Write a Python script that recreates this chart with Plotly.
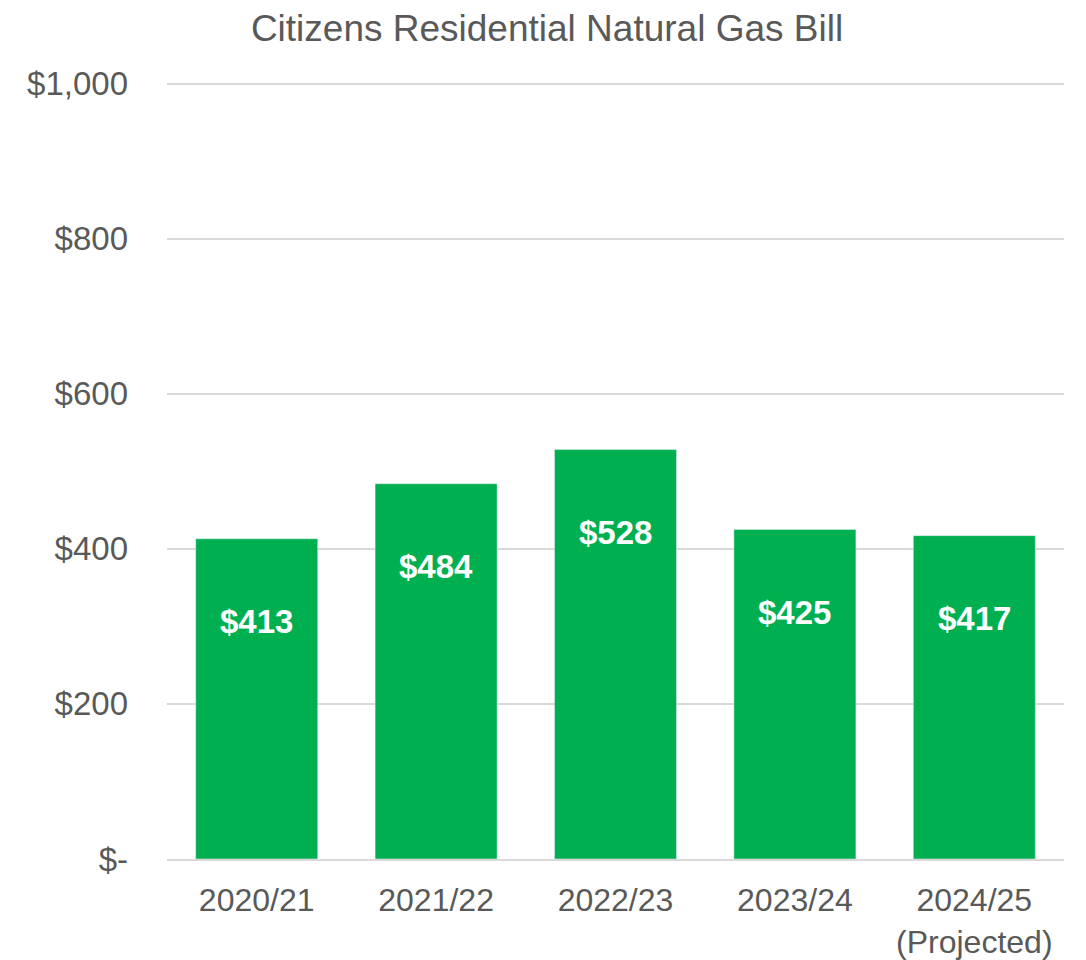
import plotly.graph_objects as go

anos = ["2020/21", "2021/22", "2022/23", "2023/24", "2024/25<br>(Projected)"]
valores = [413, 484, 528, 425, 417]
rotulos = ["$413", "$484", "$528", "$425", "$417"]
ticks_y = [0, 200, 400, 600, 800, 1000]
ticks_y_txt = ["$-", "$200", "$400", "$600", "$800", "$1,000"]

cinza = "#595959"
verde = "#00B050"
fonte = "Liberation Sans, Arial, sans-serif"

fig = go.Figure(go.Bar(x=anos, y=valores, marker_color=verde, hoverinfo="skip"))

# rotulos brancos dentro das barras, um pouco abaixo do topo
for a, v, r in zip(anos, valores, rotulos):
    fig.add_annotation(x=a, y=v, text=f"<b>{r}</b>", showarrow=False,
                       yshift=-83, yanchor="middle",
                       font=dict(size=33, color="white", family=fonte))

# a pagina tem 8px de margem no body, por isso 1078x952
fig.update_layout(
    width=1078, height=952,
    margin=dict(l=159, r=22, t=74, b=101),
    paper_bgcolor="white", plot_bgcolor="white",
    bargap=0.32,
    showlegend=False,
    title=dict(text="Citizens Residential Natural Gas Bill", x=0.5, xanchor="center",
               y=0.979, yanchor="middle", font=dict(size=37, color=cinza, family=fonte)),
    font=dict(family=fonte, color=cinza),
)
fig.update_yaxes(range=[0, 1002], tickvals=ticks_y, ticktext=ticks_y_txt,
                 showgrid=True, gridcolor="#D9D9D9", gridwidth=2,
                 zeroline=False, showline=False, ticks="", automargin=False,
                 ticklabelstandoff=38, tickfont=dict(size=33, color=cinza))
fig.update_xaxes(showline=True, linecolor="#D9D9D9", linewidth=2, ticks="",
                 automargin=False,
                 ticklabelstandoff=12, tickfont=dict(size=32, color=cinza))

fig.write_html("out.html")
